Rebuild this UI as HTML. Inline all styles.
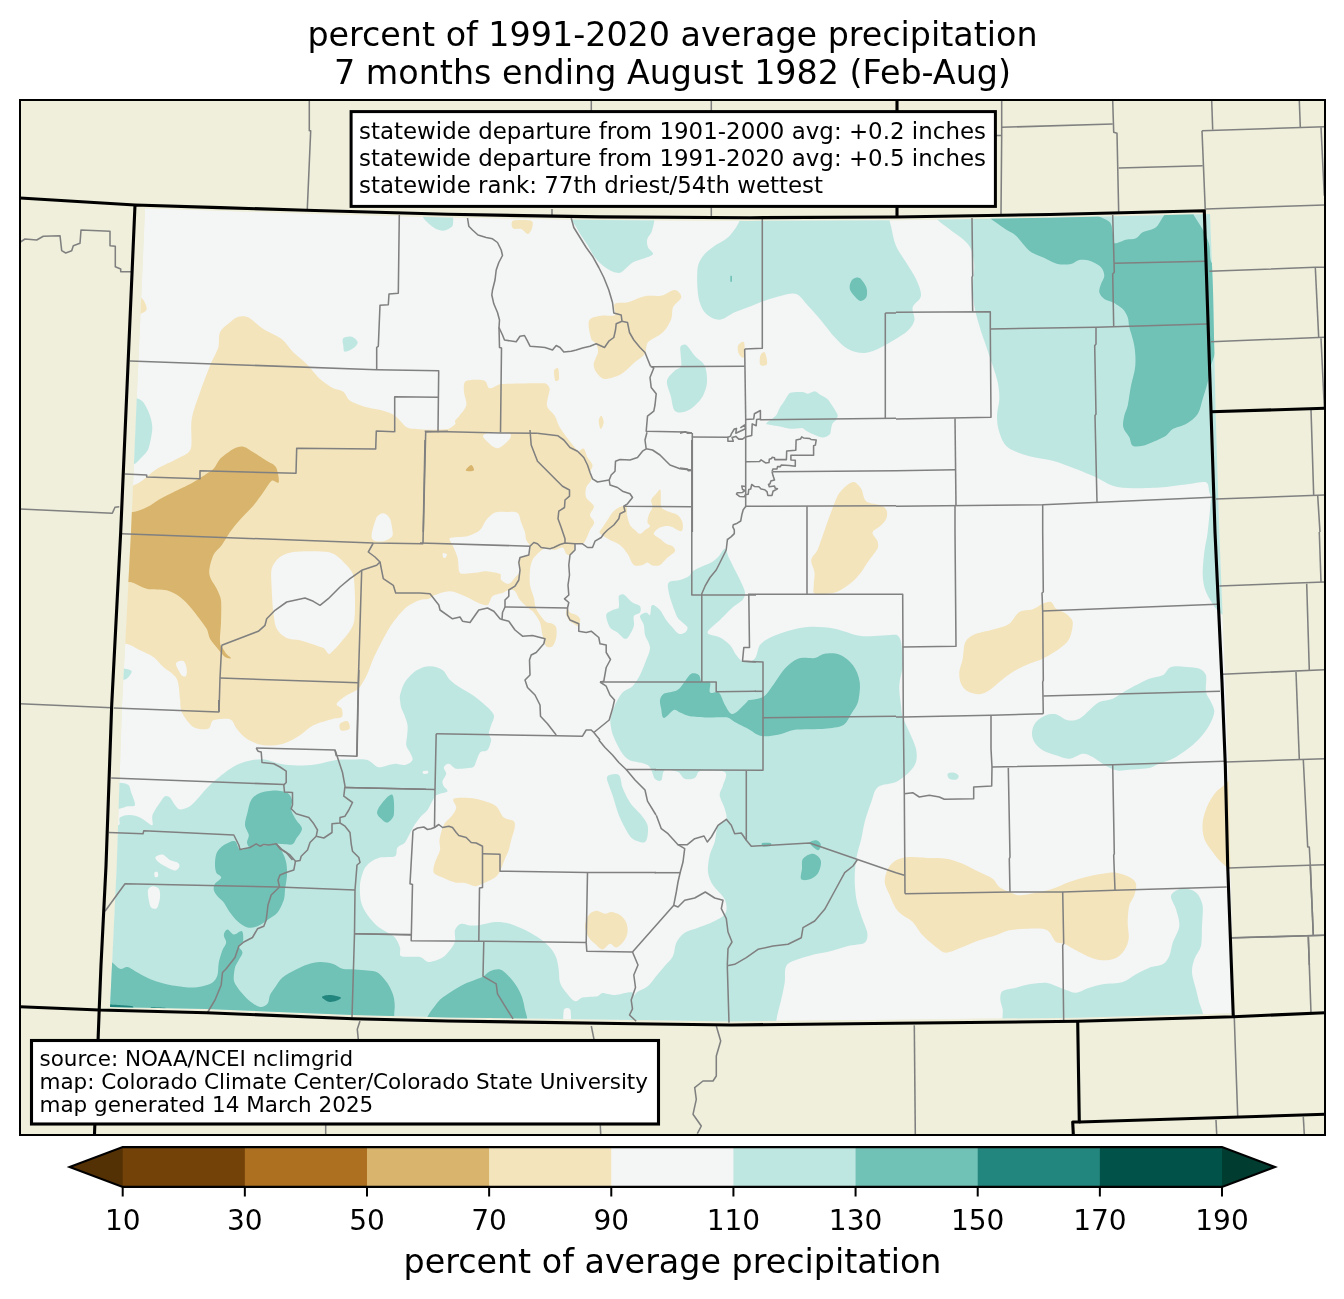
<!DOCTYPE html>
<html lang="en"><head><meta charset="utf-8"><title>percent of 1991-2020 average precipitation</title>
<style>html,body{margin:0;padding:0;background:#fff;overflow:hidden}svg{display:block;will-change:transform}text{font-family:"DejaVu Sans","Liberation Sans",sans-serif;fill:#000}</style></head><body>
<svg width="1344" height="1299" viewBox="0 0 1344 1299">
<defs><clipPath id="ax"><rect x="20" y="100" width="1305" height="1035"/></clipPath>
<clipPath id="dat"><path d="M145 208.2 220 210.8 306 213.4 448 217.5 600 220.1 750 220.9 896 220.2 1050 217.7 1210 214 1213 290 1215.6 411 1219.3 532 1222.8 620 1225.3 682 1228.3 765 1230.4 866 1234.5 1013.3 1077.7 1017.7 896 1019.7 731 1021.4 634 1020.1 448 1017.4 353 1015.1 206.7 1009.1 110 1006.9 112 965 116.7 866 122 705 131 532 136.7 399 142 280Z"/></clipPath></defs>
<rect width="1344" height="1299" fill="#fff"/>
<rect x="20" y="100" width="1305" height="1035" fill="#efefdb"/>
<g clip-path="url(#ax)">
<g clip-path="url(#dat)">
<path d="M145 208.2 220 210.8 306 213.4 448 217.5 600 220.1 750 220.9 896 220.2 1050 217.7 1210 214 1213 290 1215.6 411 1219.3 532 1222.8 620 1225.3 682 1228.3 765 1230.4 866 1234.5 1013.3 1077.7 1017.7 896 1019.7 731 1021.4 634 1020.1 448 1017.4 353 1015.1 206.7 1009.1 110 1006.9 112 965 116.7 866 122 705 131 532 136.7 399 142 280Z" fill="#f4f5f5"/>
<path d="M100 485.7C102.2 475 123.4 488.5 132.7 485.7C142 482.9 150.3 472.9 156.7 469C163.1 465.1 171.8 461.9 176.7 459C181.6 456.1 188.7 454.4 190.7 449C192.7 443.6 190.2 428.2 191.7 419C193.2 409.8 197 401.1 200 392.3C203 383.5 207.5 371.9 210 365.7C212.5 359.5 216.9 352.1 218.3 347.3C219.7 342.5 218.1 336.5 220 332.3C221.9 328.1 227.5 324.5 230 322.3C232.5 320.1 235.2 317.5 238.3 316.7C241.4 315.9 245.3 315.8 248.3 317.3C251.3 318.8 258 325.5 263.3 329C268.6 332.5 277.1 335.4 281.7 339C286.3 342.6 289.1 348.1 293.3 352.3C297.5 356.5 302.5 359.8 306.7 364C310.9 368.2 316 375.4 320 379C324 382.6 330.2 386.6 333.3 388.3C336.4 390 340.5 389.6 343.3 391.7C346.1 393.8 346.9 398.6 350 400.7C353.1 402.8 361.3 405.7 366.7 407.3C372.1 408.9 379.2 409.5 383.3 410.7C387.4 411.9 391.5 413.2 395 415.7C398.5 418.2 403.8 425.5 406.7 427.3C409.6 429.1 413.3 428.7 416.7 429C420.1 429.3 425.6 429.7 430 429.7C434.4 429.7 445.1 429.6 448 429C450.9 428.4 454.6 424.8 455.3 424C456 423.2 454.5 421.7 455 420.7C455.5 419.7 458.5 417.1 460 415C461.5 412.9 465.6 408.8 466.3 405C467 401.2 464.2 395.6 464 392.3C463.8 389 463.5 384.3 464.7 382.3C465.9 380.3 469 380.2 471.3 380C473.6 379.8 481.9 379.5 484.7 380.7C487.5 381.9 486.9 387.8 489.7 388.3C492.5 388.9 497.2 384.4 501.3 384C505.4 383.6 542.2 383 544.7 383.3C547.2 383.6 549.4 386.5 549.7 389C550 391.5 546.2 401.6 547 405.7C547.8 409.8 552.6 412.1 554.7 415.7C556.8 419.3 557.6 423.6 559.7 427.3C561.8 431 565.1 435.2 568 439C570.9 442.8 576.3 449.6 578 450.7C579.7 451.8 582.2 447.7 583.8 448.8C585.4 449.9 586.1 454.9 587.5 457.5C588.9 460.1 592.1 462.5 592.5 465C592.9 467.5 590.2 470 590 472.5C589.8 475 591.8 477.5 591.2 480C590.6 482.5 587 484.6 586.2 487.5C585.4 490.4 584.9 494.4 586.2 497.5C587.5 500.6 593.2 503.3 593.8 506.2C594.4 509.1 589.9 512.3 590 515C590.1 517.7 594.2 520 594.2 522.5C594.2 525 591.3 527.4 590 530C588.7 532.6 587.2 537 586.2 538.8C585.2 540.6 584.4 543 582.5 543.8C580.6 544.6 576.5 542.8 575 543.8C573.5 544.8 574.6 548.1 573.8 550C573 551.9 571.2 554.4 570 555C568.8 555.6 567.1 554.7 566.2 553.8C565.3 552.9 564.4 548.1 562.5 547.5C560.6 546.9 556.7 549.8 555 550C553.3 550.2 551.7 549.1 550 548.8C548.3 548.5 546.6 547.4 545 548C543.4 548.6 539.4 552 537.5 553.8C535.6 555.6 533.6 557.6 532.5 560C531.4 562.4 530.3 566.6 530 570C529.7 573.4 529.4 580.7 530 585C530.6 589.3 533 594.4 533.8 597.5C534.6 600.6 534.5 604.1 535.5 607C536.5 609.9 538.2 612.5 540 615C541.8 617.5 544.4 620.7 546.2 622C548 623.3 551 623 552.5 623.8C554 624.6 555.7 625.8 556.2 627.5C556.7 629.2 556.8 634.4 556.2 637.5C555.6 640.6 554.1 644.8 552.5 646.2C550.9 647.6 547.6 647.8 546.2 646.2C544.8 644.6 543.5 638.8 542.5 635C541.5 631.2 541.4 626.2 540 622.5C538.6 618.8 535.5 614.6 533.8 612.5C532.1 610.4 529.5 609.3 527.5 607.5C525.5 605.7 522.1 602.7 520 600C517.9 597.3 516.6 592.6 515 591.2C513.4 589.8 510.9 589.7 508.8 590C506.7 590.3 504.7 592.2 502.5 593C500.3 593.8 495 594.2 492.5 596.2C490 598.2 490 604 487.5 605C485 606 480.7 603.8 477.5 602.5C474.3 601.2 469.3 598 465 596.2C460.7 594.4 455 591.4 450 591.2C445 591 437.3 594.2 435 595C432.7 595.8 431.1 598 428.8 598.8C426.5 599.6 422.8 599 420 600C417.2 601 410.6 603.8 406.7 607C402.8 610.2 397.2 616.8 393.3 622C389.4 627.2 386.4 633 383.3 638.7C380.2 644.4 375.8 653.3 373.3 658.7C370.8 664.1 369.1 670.6 366.7 675.3C364.3 680 361.4 685.6 358.3 688.7C355.2 691.8 350.3 692.8 346.7 695.3C343.1 697.8 337.5 701.5 336.7 703.7C335.9 705.9 340.9 706.5 341.7 708.7C342.5 710.9 343.1 715.3 341.7 717C340.3 718.7 336 717.9 333.3 718.7C330.6 719.5 318.3 722.8 313.3 725.3C308.3 727.8 304.7 732.4 300 735.3C295.3 738.2 289.3 742.1 283.3 743.7C277.3 745.3 269.2 746.1 263.3 745.3C257.4 744.5 250.7 741.2 246.7 738.7C242.7 736.2 239.2 731.6 236.7 728.7C234.2 725.8 233.6 720.6 230 719.3C226.4 718 216.3 719 213.3 720.3C210.3 721.6 211.4 727.7 208.3 728.7C205.2 729.7 197.6 729.7 193.3 727C189 724.3 183.6 716 181.7 712C179.8 708 180.7 703.1 180 698.7C179.3 694.3 179.5 683.9 176.7 678.7C173.9 673.5 166.8 670.2 163.3 667C159.8 663.8 157.1 659.7 153.3 657C149.5 654.3 144.5 652.5 140 650.3C135.5 648.1 131.1 644.5 126 643.7C120.9 642.9 101.4 652.3 100 643.7C98.6 635.1 97.8 496.4 100 485.7Z" fill="#f3e4bb"/>
<path d="M133.3 298C134.6 295.5 139.5 296.2 141.7 298C143.9 299.8 147 306.3 146.7 309C146.4 311.7 142.1 313.2 140 314C137.9 314.8 134.2 316.1 133.3 314C132.4 311.9 132 300.5 133.3 298Z" fill="#f3e4bb"/>
<path d="M614.7 304C616.9 301.9 623.7 303.4 628 302.3C632.3 301.2 639.3 297.4 644.7 296.3C650.1 295.2 656.5 296.7 661.3 295.7C666.1 294.7 671.4 289.7 674.7 290C678 290.3 681.6 294.4 681.3 297.3C681 300.2 674.6 303.7 673 307.3C671.4 310.9 672.8 315.3 671.3 319C669.8 322.7 666.7 328.6 663 332.3C659.3 336 650.6 339.2 648 342.3C645.4 345.4 646.9 350.7 644.7 354C642.5 357.3 638 359.5 634.7 362.3C631.4 365.1 626.3 371.2 621.3 374C616.3 376.8 608.3 379.2 604.7 379C601.1 378.8 598 374.6 596.3 372.3C594.6 370 593.5 366.9 593.7 364C593.9 361.1 597.6 355.1 598 352.3C598.4 349.5 597.4 346.1 596.3 344C595.2 341.9 592 341.2 591.3 339C590.6 336.8 587.3 324.6 589 320.7C590.7 316.8 597 316.6 601.3 315.7C605.6 314.8 612.5 316.9 614.7 315C616.9 313.1 612.5 306.1 614.7 304Z" fill="#f3e4bb"/>
<path d="M513 220.7C515.3 219.7 529.2 220 531.3 220.7C533.4 221.4 532.8 225.1 532.3 227.3C531.8 229.5 529.8 233.7 528 234C526.2 234.3 523.8 229.9 521.3 229C518.8 228.1 514.4 229.7 513 228.3C511.6 226.9 510.7 221.7 513 220.7Z" fill="#f3e4bb"/>
<path d="M554 370.7C554.3 369.2 557.2 367 558 368.3C558.8 369.6 559.3 377.7 559 379C558.7 380.3 556 381.9 555.3 380.7C554.6 379.5 553.7 372.2 554 370.7Z" fill="#f3e4bb"/>
<path d="M738 345.7C738.8 343.8 743 340.4 744 342.3C745 344.2 744.8 355.5 744 357.3C743.2 359.1 739.9 355.8 739 354C738.1 352.2 737.2 347.6 738 345.7Z" fill="#f3e4bb"/>
<path d="M760.3 355.7C760.9 354 763.6 350.9 764.7 352.3C765.8 353.7 767.7 361.9 767 364C766.3 366.1 761.4 366.1 760.3 364.7C759.2 363.3 759.7 357.4 760.3 355.7Z" fill="#f3e4bb"/>
<path d="M598.7 420.7C598.8 418.8 600.5 415.4 601.3 415.7C602.1 416 603.8 420.1 603.7 422.3C603.6 424.5 601.5 429.3 600.7 429C599.9 428.7 598.6 422.6 598.7 420.7Z" fill="#f3e4bb"/>
<path d="M626.2 506.2C624.8 504.9 621.1 506.5 618.8 507.5C616.5 508.5 614.3 510.5 612.5 512.5C610.7 514.5 609.2 517.5 607.5 520C605.8 522.5 603.5 525.9 602.5 527.5C601.5 529.1 599.3 531 599.5 532.5C599.7 534 602.3 535.1 603.8 536.2C605.3 537.3 607.9 538.8 610 540C612.1 541.2 617.1 542.7 620 545C622.9 547.3 625.3 550.6 627.5 553.8C629.7 557 631.5 563.3 633.8 565C636.1 566.7 640.7 565.3 642.5 565C644.3 564.7 645.8 562.4 647.5 562.5C649.2 562.6 650.6 565.1 652.5 565.5C654.4 565.9 657.8 566.2 660 565C662.2 563.8 665.1 559.7 667.5 557.5C669.9 555.3 674.2 552.9 675 551.2C675.8 549.5 673.9 547.4 672.5 546.2C671.1 545 668.1 544.9 666.2 543.8C664.3 542.7 662.1 540.5 660 538.8C657.9 537.1 653.8 535.7 653.8 533.8C653.8 531.9 657.3 528.8 660 527.5C662.7 526.2 666.7 525.6 670 526.2C673.3 526.8 679.1 531.8 681.2 531.2C683.3 530.6 683.1 525.2 682.5 522.5C681.9 519.8 679.9 516.8 677.5 515C675.1 513.2 669.8 512.3 667.5 511.2C665.2 510.1 662 509.4 661.2 507C660.4 504.6 661.2 491.8 660.5 490C659.8 488.2 657.5 492.4 656.2 493.8C654.9 495.2 651.8 497.8 651.2 500C650.6 502.2 652.9 504.7 652.5 507C652.1 509.3 649.6 512.6 648.8 515C648 517.4 647.3 521 647.5 522.5C647.7 524 650.4 525 650 526.2C649.6 527.5 646.7 528.7 645 530C643.3 531.3 641.7 533.8 640 533.8C638.3 533.8 636.6 531.4 635 530C633.4 528.6 631.1 527.1 630 525C628.9 522.9 627.6 517.9 627 515C626.4 512.1 627.6 507.4 626.2 506.2Z" fill="#f3e4bb"/>
<path d="M567.5 608C568.1 607.8 568.7 611.4 570 612.5C571.3 613.6 574.7 614 576.2 615C577.7 616 579.6 617.1 580 618.8C580.4 620.5 579.8 625.4 578.8 626.2C577.8 627 575.4 624.8 573.8 623.8C572.2 622.8 570.1 621.7 568.8 620C567.5 618.3 566.4 615.8 566.2 613.8C566 611.8 566.9 608.2 567.5 608Z" fill="#f3e4bb"/>
<path d="M853.8 482C856.3 482.5 859.4 485.9 861.2 488.8C863.1 491.6 863.1 498.5 866.2 501.2C869.4 504 877.5 503.9 880 505C882.5 506.1 885.5 507.7 886.5 510C887.5 512.3 887.3 516 886.2 518.8C885.2 521.5 882.3 524 880 526.2C877.7 528.5 872.9 530 872.5 532.5C872.1 535 876.8 538.9 877.5 541.2C878.2 543.6 878.6 546.5 877.5 548.8C876.4 551 870.1 558.8 867.5 562.5C864.9 566.2 862.9 570.3 860 573.8C857.1 577.2 853.8 580.9 850 583.8C846.2 586.6 840.6 590.9 835 592.5C829.4 594.1 817.8 594.7 815 593.8C812.2 592.8 813.8 587.9 813.8 585C813.7 582.1 814.9 576.7 814.5 572.5C814.1 568.3 810.8 563.8 811.2 560C811.8 556.2 815.9 553.6 817.5 550C819.1 546.4 821.7 538.3 823.8 532.5C825.8 526.7 827.8 520.8 830 515C832.2 509.2 836.1 498.5 838 495C839.9 491.5 843.8 487.9 846 486C848.2 484.1 851.2 481.5 853.8 482Z" fill="#f3e4bb"/>
<path d="M967.7 638.7C969.5 637 973 634.8 976 633.7C979 632.6 991.5 630.1 996 628.7C1000.5 627.3 1005.5 626.5 1009.3 623.7C1013.1 620.9 1015.4 614.4 1019.3 612C1023.2 609.6 1029.1 610.6 1032.7 609.3C1036.3 608 1040.1 604.7 1042.7 603.7C1045.3 602.7 1048.8 601.2 1051 602C1053.2 602.8 1053.8 607 1056 608.7C1058.2 610.4 1063.2 611.5 1066 613.7C1068.8 615.9 1072.2 618.5 1072.7 622C1073.2 625.5 1071.4 634.5 1069.3 638.7C1067.2 642.9 1063.1 645.9 1059.3 648.7C1055.5 651.5 1047 656.6 1042.7 658.7C1038.4 660.8 1033.7 661.8 1029.3 663.7C1024.9 665.6 1017.5 669.1 1012.7 672C1007.9 674.9 1002.7 679.3 999.3 682C995.9 684.7 992.4 688.4 989.3 690.3C986.2 692.2 982.9 694.1 979.3 694.3C975.7 694.5 970.6 693 967.7 691.3C964.8 689.6 962.3 686.8 961 683.7C959.7 680.6 959 675.9 959.3 672C959.6 668.1 961.9 663.1 962.7 658.7C963.5 654.3 963.7 647.7 964.3 645.3C964.9 642.9 965.9 640.4 967.7 638.7Z" fill="#f3e4bb"/>
<path d="M1232.7 778.7C1232.3 775.2 1227.1 783.1 1224.3 785.3C1221.5 787.5 1218.3 789.3 1216 792C1213.7 794.7 1209.8 800.5 1207.7 805.3C1205.6 810.1 1203.3 816.4 1202.7 822C1202.1 827.6 1202.6 833.7 1204.3 838.7C1206 843.7 1210.2 848.5 1212.7 852C1215.2 855.5 1217.7 859.2 1221 862C1224.3 864.8 1232.1 873.2 1232.7 868.7C1233.3 864.2 1233.1 782.2 1232.7 778.7Z" fill="#f3e4bb"/>
<path d="M896 860.3C899.4 858.4 904.7 857.3 909.3 857C913.9 856.7 923.7 857.7 929.3 858C934.9 858.3 940.5 857.8 946 858.7C951.5 859.6 957.3 861.5 962.7 863.7C968.1 865.9 974.8 869.8 979.3 872C983.8 874.2 989.9 876.6 992.7 878.7C995.5 880.8 996.5 884.8 999.3 887C1002.1 889.2 1006.1 890.7 1009.3 892C1012.5 893.3 1015.8 895.2 1019.3 895.3C1022.8 895.4 1030.5 893.8 1036 892.7C1041.5 891.6 1047.3 890.5 1052.7 888.7C1058.1 886.9 1063.8 883.9 1069.3 882C1074.8 880.1 1080.5 878.4 1086 877C1091.5 875.6 1098.3 874.3 1102.7 873.7C1107.1 873.1 1111.6 872.2 1116 872.7C1120.4 873.2 1126.5 875.5 1129.3 877C1132.1 878.5 1135.2 880.7 1136 883.7C1136.8 886.7 1135.4 891.7 1134.3 895.3C1133.2 898.9 1130.2 901.7 1129.3 905.3C1128.4 908.9 1127.8 916.4 1127.7 922C1127.6 927.6 1129.2 934.6 1128.7 938.7C1128.2 942.8 1126.4 947.1 1124.3 950.3C1122.2 953.5 1119.4 956.4 1116 958C1112.6 959.6 1107.2 960.5 1102.7 960.3C1098.2 960.1 1093.6 958.6 1089.3 957C1085 955.4 1080 952.4 1076 950.3C1072 948.2 1066.9 944.8 1064.3 943.7C1061.7 942.6 1058.2 943.7 1056 942C1053.8 940.3 1051 933.7 1049.3 932C1047.6 930.3 1045.1 929 1042.7 928.7C1040.3 928.4 1031.6 928.4 1026 928.7C1020.4 929 1013.9 929.3 1009.3 930.3C1004.7 931.3 1000.5 933.8 996 935.3C991.5 936.8 984.8 938.4 979.3 940.3C973.8 942.2 968.2 944.9 962.7 947C957.2 949.1 949.8 952.7 946 952.7C942.2 952.7 939.1 949.3 936 947C932.9 944.7 926.5 939.4 922.7 935.3C918.9 931.2 915.5 924.8 912.7 922C909.9 919.2 905.2 917.3 902.7 915.3C900.2 913.3 897.7 911.3 896 908.7C894.3 906.1 891.5 899.7 889.7 895.3C887.9 890.9 885 886.4 884.7 882C884.4 877.6 886.2 872.1 888 868.7C889.8 865.3 892.6 862.2 896 860.3Z" fill="#f3e4bb"/>
<path d="M453.8 798.8C456.1 797.2 464.9 797.6 470 798C475.1 798.4 481.1 800 485 801.2C488.9 802.4 493.1 803.5 496.2 806.2C499.3 808.9 501.1 815.2 503.8 817.5C506.5 819.8 512.1 819.4 513.8 821.2C515.5 823 514.8 826.3 514.5 828.8C514.2 831.3 512.1 836.7 511.2 840C510.3 843.3 509.8 847 508.8 850C507.8 853 506.2 855.8 505 858.8C503.8 861.8 501.3 868.8 500 871.2C498.7 873.6 497.2 875.9 495 877.5C492.8 879.1 484.9 882.8 482.5 883.8C480.1 884.8 477.6 886.3 475 886.2C472.4 886.1 468.3 883.6 465 883C461.7 882.4 458.2 883.3 455 882.5C451.8 881.7 445.5 878.9 442.5 877.5C439.5 876.1 435.1 875 433.8 872.5C432.6 870 434.1 865.7 435 862.5C435.9 859.3 439.3 853.3 440 850C440.7 846.7 439 843.3 439.5 840C440 836.7 441.8 828.9 443.8 825C445.8 821.1 450.9 817.3 452.5 815C454.1 812.7 456 810.2 456.2 807.5C456.4 804.8 451.5 800.4 453.8 798.8Z" fill="#f3e4bb"/>
<path d="M585 926.2C585 922.5 587.1 917.3 588.8 915C590.5 912.7 593.5 911 596.2 910.8C598.9 910.6 602.9 913.6 605 913.8C607.1 914 609.1 911.8 611.2 912C613.3 912.2 617.5 913.2 620 915C622.5 916.8 625 919.6 626.2 922.5C627.5 925.4 627.9 929.4 627.5 932.5C627.1 935.6 625.7 938.7 623.8 941.2C621.9 943.7 618.5 947.1 616.2 947.5C613.9 947.9 612.3 943.5 610 943.8C607.7 944.1 605 949.5 602.5 949.5C600 949.5 597.2 945.7 595 943.8C592.8 941.9 590.3 940.1 588.8 937.5C587.3 934.9 585 930 585 926.2Z" fill="#f3e4bb"/>
<path d="M340 723.8C341.1 722.2 345.9 720.4 347.5 721.2C349.1 722 350.6 727.2 349.5 728.8C348.4 730.3 342.8 731.3 341.2 730.5C339.6 729.7 338.9 725.3 340 723.8Z" fill="#f3e4bb"/>
<path d="M126.7 398C127.1 394.9 133.3 397.3 136 398C138.7 398.7 141.5 400.1 143.3 402.3C145.1 404.5 148.6 411.4 150 415.7C151.4 420 152.5 424.5 152.3 429C152.1 433.5 149.9 445 148.3 449C146.7 453 141.7 457.2 140 459C138.3 460.8 136.5 463.2 134.3 464C132.1 464.8 127 466.5 126.7 464C126.4 461.5 126.3 401.1 126.7 398Z" fill="#bfe7e1"/>
<path d="M343.3 338.3C344.7 336.8 349.3 336 351.7 336.7C354.1 337.4 357.4 340.4 357.7 342.3C358 344.2 355.3 346.8 353.3 348.3C351.3 349.8 346.7 352.1 345 351.7C343.3 351.3 343.6 347.8 343.3 345.7C343 343.6 341.9 339.8 343.3 338.3Z" fill="#bfe7e1"/>
<path d="M423.3 215C420.3 217.1 430.5 225.1 433.3 227.3C436.1 229.5 440.4 230.7 443.3 230.7C446.2 230.7 450.3 228 451.3 227.3C452.3 226.6 453 225.2 453 224C453 222.8 454.2 215.9 451.3 215C448.4 214.1 426.3 212.9 423.3 215Z" fill="#bfe7e1"/>
<path d="M572 215.7C576.1 215.1 647.1 214.8 652 215.7C656.9 216.6 652.6 227.6 652 230.7C651.4 233.8 648 236.3 647.3 239C646.6 241.7 647 244.8 648 247.3C649 249.8 653.5 252.2 653 254C652.5 255.8 647.6 257.1 644.7 258.3C641.8 259.5 636.5 260.2 633 262.3C629.5 264.4 623.8 271.1 621.3 272.3C618.8 273.5 615.6 272.6 613 271.7C610.4 270.8 606 268.1 603 265.7C600 263.3 597.1 260.4 594.7 257.3C592.3 254.2 590.1 249.1 588 245.7C585.9 242.3 583 238.4 581.3 235.7C579.6 233 577.7 230.3 576.3 227.3C574.9 224.3 567.9 216.3 572 215.7Z" fill="#bfe7e1"/>
<path d="M741.3 215.7C739.7 223.2 733.7 231.2 729.7 235.7C725.7 240.2 718.2 243.1 714.7 245.7C711.2 248.3 707.5 250.7 704.7 254C701.9 257.3 699 261.3 698 265.7C697 270.1 697 280.1 697.3 285.7C697.6 291.3 698.3 298 699.7 302.3C701.1 306.6 703 311.1 706.3 314C709.6 316.9 715 320 719.7 319.7C724.4 319.4 730.4 314.2 734.7 312.3C739 310.4 743.6 309 748 307.3C752.4 305.6 759.2 302.6 764.7 300.7C770.2 298.8 776.4 296.7 781.3 295.7C786.2 294.7 791.8 292.3 796.3 294C800.8 295.7 804.2 301.7 808 305.7C811.8 309.7 817 315.6 821.3 320.7C825.6 325.8 830.6 333 834.7 337.3C838.8 341.6 843 346.4 848 349C853 351.6 859.2 353.3 864.7 353C870.2 352.7 876.1 349.9 881.3 347.3C886.5 344.7 902.3 335.3 906 332.3C909.7 329.3 913.2 324.9 914.3 320.7C915.4 316.5 911.6 311.5 912.7 307.3C913.8 303.1 920.5 300.4 921 295.7C921.5 291 918.4 284.3 916 279C913.6 273.7 909.3 267.8 906 262.3C902.7 256.8 898.5 251.5 896 245.7C893.5 239.9 892.2 231.2 891.3 227.3C890.4 223.4 889 219.7 888.7 215.7C888.4 211.7 898.9 184.8 888 182.3C877.1 179.8 752.2 179.8 741.3 182.3C730.4 184.8 742.9 208.2 741.3 215.7Z" fill="#bfe7e1"/>
<path d="M936 165.7C920.1 168 932.8 207.1 934.3 214C935.8 220.9 945.1 225.3 949.3 229C953.5 232.7 959.5 236.1 962.7 239C965.9 241.9 969.3 245 971 249C972.7 253 974 260 974.3 265.7C974.6 271.4 972.7 279 972.7 285.7C972.7 292.4 973.2 299.1 974.3 305.7C975.4 312.3 977.4 319.1 979.3 325.7C981.2 332.3 983.8 339 986 345.7C988.2 352.4 990.9 360.2 992.7 365.7C994.5 371.2 996.6 376.8 997.7 382.3C998.8 387.8 999.4 393.4 999.3 399C999.2 404.6 997 410.1 997 415.7C997 421.2 997.5 427 999.3 432.3C1001.1 437.6 1003.2 443.7 1007.7 447.3C1012.2 450.9 1021.8 454.1 1029.3 456.3C1036.8 458.5 1045 458.6 1052.7 460.7C1060.4 462.8 1069.3 466.4 1076 469C1082.7 471.6 1090.3 474.7 1096 477.3C1101.7 479.9 1106.7 483.9 1112.7 485.7C1118.7 487.5 1126 488.1 1132.7 488.3C1139.4 488.5 1153.8 488 1162.7 487.3C1171.6 486.6 1183.7 484.6 1189.3 484C1194.9 483.4 1202.8 481 1206 482.3C1209.2 483.6 1208.6 490.1 1209.3 492.3C1210 494.5 1211.1 496.7 1211 499C1210.9 501.3 1208.5 525.3 1207.7 532C1206.9 538.7 1205.1 545.3 1204.3 552C1203.5 558.7 1202.5 569.6 1202.7 575.3C1202.9 581 1203.9 586.7 1206 592C1208.1 597.3 1213.8 605.9 1216 608.7C1218.2 611.5 1221 614.2 1224.3 615.3C1227.6 616.4 1235.6 619.2 1236 615.3C1236.4 611.4 1262 210.1 1262.7 199C1263.4 187.9 1273.7 166.8 1262.7 165.7C1251.7 164.6 951.9 163.4 936 165.7Z" fill="#bfe7e1"/>
<path d="M680.3 347.3C680.8 345.2 684.4 343.9 686.3 345C688.2 346.1 691.7 352.3 694.7 355.7C697.7 359.1 702.7 361.4 704.7 365.7C706.7 370 707.3 377.6 707 382.3C706.7 387 705 391.9 703 395.7C701 399.5 697.6 403.1 694.7 405.7C691.8 408.3 687.9 410.9 684.7 411.7C681.5 412.5 676.9 413.2 674.7 410.7C672.5 408.2 672 400.7 670.7 395.7C669.4 390.7 666.3 384.9 667 380.7C667.7 376.5 672.8 372.7 674.7 370.7C676.6 368.7 680.7 368.4 681.3 365.7C681.9 363 679.8 349.4 680.3 347.3Z" fill="#bfe7e1"/>
<path d="M766.3 423.5C766.7 422.4 771.7 419.4 773 418.3C774.3 417.2 775.8 416.1 776.7 414.6C777.6 413.1 778.5 410 779.7 407.9C780.9 405.8 782.7 403.4 784.2 401.2C785.7 399 788.1 394.5 789.4 393.3C790.7 392.1 792.8 392.3 794.6 392.2C796.4 392.1 801.9 392 803.5 392.2C805.1 392.4 806.4 393.8 808 393.7C809.6 393.6 812.7 391.1 814.7 391.2C816.7 391.3 818.1 393.4 819.9 394.5C821.7 395.6 825.4 397.3 827.3 398.9C829.2 400.5 830.5 403 831.8 404.9C833.1 406.8 834.7 409.3 835.5 410.8C836.3 412.3 837.6 413.8 837.7 415.3C837.8 416.8 837 418.5 836.2 419.8C835.4 421.1 833.3 422 832.5 423.5C831.7 425 831.5 427.7 831 429.4C830.5 431.1 830.9 433.3 829.6 434.6C828.3 435.9 825.3 437.6 822.9 437.6C820.5 437.6 816.5 435.6 813.9 434.6C811.3 433.6 808.1 431.8 806.5 430.9C804.9 430 803.8 428.1 802 427.9C800.2 427.7 793.6 428.9 790.1 428.7C786.6 428.5 782.7 427.1 779.7 426.5C776.7 425.9 772.3 425.3 770.8 425C769.3 424.7 765.9 424.6 766.3 423.5Z" fill="#bfe7e1"/>
<path d="M105 825C105.6 820.4 116.5 826.1 118.8 825C121.1 823.9 118.1 819.2 120 817.5C121.9 815.8 126.7 815 130 815C133.3 815 137.2 816.3 140 817.5C142.8 818.7 145.9 821.5 147.5 822.5C149.1 823.5 151.7 826.2 152.5 825C153.3 823.8 151.4 818.2 152.5 815C153.6 811.8 158.5 804.7 160 802.5C161.5 800.3 163.5 797 165 796.2C166.5 795.4 168.7 796.4 170 797.5C171.3 798.6 173.6 803.3 175 805C176.4 806.7 177.8 809.3 180 809.5C182.2 809.7 187.1 808 190 806.2C192.9 804.4 195.1 801.4 197.5 798.8C199.9 796.2 205.5 789.3 210 785C214.5 780.7 221 775.5 225 772.5C229 769.5 233 766.5 237.5 764.5C242 762.5 248.4 760.7 252.5 760C256.6 759.3 260.9 758.9 265 759.5C269.1 760.1 274.9 762.9 280 763.8C285.1 764.7 291.7 765.4 297.5 765.5C303.3 765.6 309.9 765.2 315 764.5C320.1 763.8 326.7 761.9 330 761.2C333.3 760.5 336.6 759.7 340 759.5C343.4 759.3 350.8 759.4 355 759.5C359.2 759.6 363.8 758.8 367.5 760C371.2 761.2 375.1 766.2 377.5 767C379.9 767.8 382.5 766.7 385 766.2C387.5 765.7 391.7 764 395 763.8C398.3 763.6 402.1 765.6 405 765C407.9 764.4 411.7 762.1 412.5 760C413.3 757.9 411 754.9 410 752.5C409 750.1 406.5 747.8 406.2 745C405.9 742.2 408.3 731.1 407.5 725C406.7 718.9 401.9 709.9 401.2 707.5C400.5 705.1 400.2 701.6 400 700C399.8 698.4 399.6 696.8 400 695.3C400.4 693.8 402.4 685.9 405 682C407.6 678.1 412.8 672.8 416.7 670.3C420.6 667.8 425.7 666.2 430 666.2C434.3 666.2 439.2 667.7 442.5 670C445.8 672.3 447.1 677.1 450 680C452.9 682.9 456.5 685.2 460 687.5C463.5 689.8 468.5 692.2 472.5 695C476.5 697.8 481.8 702 485 705C488.2 708 492.8 711.7 493.8 715C494.8 718.3 492 722.1 491.2 725C490.4 727.9 488.8 731.6 488.8 733.8C488.8 736 491.4 737.8 491.2 740C491 742.2 489.3 748 487.5 750C485.7 752 481.7 750.5 480 752.5C478.3 754.5 475.5 763.7 475 764.8C474.5 765.9 473.7 767.2 472.5 767.5C471.3 767.8 459.1 769.3 456.2 768.8C453.3 768.3 450.9 764 448.8 763.8C446.7 763.6 444.2 765.8 443.8 767.5C443.4 769.2 446.4 771.6 446.2 773.8C446 776 442.8 779.5 442.5 781.2C442.2 782.9 443 784.7 443.8 786.2C444.6 787.7 448.1 789.9 447.5 791.2C446.9 792.5 441.7 793.1 440 793.8C438.3 794.5 436.1 794.7 435 796.2C433.9 797.7 429.5 807.1 427.5 810C425.5 812.9 422.3 814.8 420 817.5C417.7 820.2 415.1 824 413 827.5C410.9 831 406.8 840.1 405 842.5C403.2 844.9 399.2 845.2 397.5 847.5C395.8 849.8 397.6 854.7 395 856.2C392.4 857.7 383.6 856.6 380 857.5C376.4 858.4 372.6 860.5 370 862.5C367.4 864.5 365.1 867 363.8 870C362.5 873 360.4 879.9 360 885C359.6 890.1 360.1 898 361.2 902.5C362.3 907 364.9 911.2 367.5 915C370.1 918.8 374.5 923.6 377.5 926.2C380.5 928.8 385 930.9 387.5 932.5C390 934.1 393.1 935.2 395 937.5C396.9 939.8 399.1 944.7 400 947.5C400.9 950.3 398.6 954.9 401.2 956.2C403.8 957.5 416.7 956.3 420 957C423.3 957.7 425.4 961.9 428.8 962C432.2 962.1 439.4 959.2 442.5 957.5C445.6 955.8 447.9 952.7 450 950C452.1 947.3 454.2 944.5 455 941.2C455.8 937.9 454 932.8 455 930C456 927.2 458.7 924.5 461.2 923.8C463.7 923 467 925.3 470 925.5C473 925.7 476.7 925.5 480 925C483.3 924.5 490 922.2 495 922C500 921.8 505.2 922.4 510 923.8C514.8 925.2 523.1 929 527.5 931.2C531.9 933.4 536.4 936.2 540 938.8C543.6 941.4 547.4 944.5 550 947.5C552.6 950.5 554.8 953.8 556.2 957.5C557.6 961.2 558.2 965.9 558.8 970C559.4 974.1 558.8 978.8 560 982.5C561.2 986.2 563.7 989.4 566.2 992.5C568.7 995.6 572.3 1000.4 575 1001.2C577.7 1002 579.8 998.1 582.5 997.5C585.2 996.9 595.6 996.6 597.5 996.2C599.4 995.8 600.5 993.1 602.5 993C604.5 992.9 610.8 995.1 615 995C619.2 994.9 625.4 992.6 627.5 992.5C629.6 992.4 633.3 991.7 633.8 993.8C634.3 995.9 651.2 1033.8 637.5 1035C623.8 1036.2 156.8 1066.4 90 1040C23.2 1013.6 104.4 829.6 105 825Z" fill="#bfe7e1"/>
<path d="M115 785C117 781.3 124.8 783.3 127.5 784.5C130.2 785.7 130.2 789.7 131.2 792.5C132.2 795.3 135.6 802.7 135 805C134.4 807.3 130 805.9 127.5 806.2C125 806.5 117.1 811 115 807.5C112.9 804 113 788.7 115 785Z" fill="#bfe7e1"/>
<path d="M640 616.2C640.4 614.1 644.7 612.7 646.2 612.5C647.7 612.3 649.2 616 650 615C650.8 614 650.9 607.1 651.2 606.2C651.5 605.3 652.9 604.6 653.8 605C654.7 605.4 658.3 608 660 610C661.7 612 664.3 617.3 666.2 620C668.1 622.7 670.5 625.3 672.5 627.5C674.5 629.7 676.8 633 678.8 633.8C680.8 634.6 683.5 633.5 685 632.5C686.5 631.5 687.9 629.2 687.5 627.5C687.1 625.8 684.2 624.2 682.5 622.5C680.8 620.8 678.7 619.5 677.5 617.5C676.3 615.5 673.9 609.1 672.5 605C671.1 600.9 669.3 595.8 668.8 592.5C668.3 589.2 666.9 584.6 668.8 582.5C670.7 580.4 677 581 680 580C683 579 687.1 577.4 688.8 576.2C690.5 575 690.8 572.4 692.5 571.2C694.2 570 699.6 567.5 702.5 566.2C705.4 564.9 708.5 564.1 711.2 562.5C713.9 560.9 716.5 558.5 718.8 556.2C721.1 553.9 723.3 548.6 725 548.8C726.7 549 727.4 554.6 728.8 557.5C730.2 560.4 732.9 565.8 735 570C737.1 574.2 739.8 579.2 741.2 582.5C742.6 585.8 744.8 589.9 745 592.5C745.2 595.1 744.2 598 742.5 600C740.8 602 735.6 604.7 732.5 607.5C729.4 610.3 724.2 615.8 720 620C715.8 624.2 707.5 629.6 707.5 632.5C707.5 635.4 716.4 635.5 720 637.5C723.6 639.5 727.3 642.1 730 645C732.7 647.9 734 652.3 736.2 655C738.4 657.7 740.9 661.4 744 662C747.1 662.6 752.1 661.4 754.7 658.7C757.3 656 757.7 648.2 759.7 645.3C761.7 642.4 764.9 640.4 768 638.7C771.1 637 778.9 633.7 784.7 632C790.5 630.3 800.1 627.5 808 627C815.9 626.5 825.9 627.2 834.7 628.7C843.5 630.2 852.1 635.1 861.3 636C870.5 636.9 893.1 634.3 896 634.7C898.9 635.1 900.4 639.1 901 642C901.6 644.9 903 658.5 902.7 665.3C902.4 672.1 899.6 678.6 899.3 685.3C899 692 900.6 701.4 901 705.3C901.4 709.2 901.5 713.2 902.7 717C903.9 720.8 907.2 727 909.3 732C911.4 737 915 744.4 916 748.7C917 753 917.1 758.1 916 762C914.9 765.9 912.1 769.2 909.3 772C906.5 774.8 901 779.6 896 782C891 784.4 882.1 783.7 878 787C873.9 790.3 873.2 796.9 871.3 802C869.4 807.1 866.2 816.5 864.7 822C863.2 827.5 862.6 833.2 861.3 838.7C860 844.2 857.4 852.1 856.3 858.7C855.2 865.3 854.7 872 854.7 878.7C854.7 885.4 855.3 892.8 856.3 898.7C857.3 904.6 859.5 910.4 861.3 916C863.1 921.6 866.9 929.3 867.3 932.7C867.7 936.1 867.5 940.7 864.7 942.7C861.9 944.7 853.5 944.6 848 946C842.5 947.4 836.8 949.6 831.3 951C825.8 952.4 820.2 952.9 814.7 954.3C809.2 955.7 802.2 957.6 798 959.3C793.8 961 788.5 962.1 786.3 966C784.1 969.9 785.5 977.2 784.7 982.7C783.9 988.2 782.5 993.8 781.3 999.3C780.1 1004.8 777.1 1014.9 776.3 1021C775.5 1027.1 782.3 1038.5 776.3 1039.3C770.3 1040.1 645.3 1040.9 636.3 1039.3C627.3 1037.7 630.1 1017.3 629.7 1012.7C629.3 1008.1 632.2 1001.6 633 999.3C633.8 997 634.5 994.3 636.3 992.7C638.1 991.1 644.7 988.8 648 986C651.3 983.2 653.5 979.3 656.3 976C659.1 972.7 661.9 969.3 664.7 966C667.5 962.7 671.1 959.9 673 956C674.9 952.1 674.3 946.6 676.3 942.7C678.2 938.8 681.1 935.2 684.7 932.7C688.3 930.2 693.6 929.4 698 927.7C702.4 926 710.7 923.2 714.7 921C718.7 918.8 724 916.3 725.7 912.7C727.4 909.1 726.6 903.4 724.7 899.3C722.8 895.2 715.5 889.3 713 885.3C710.5 881.3 708.5 876.7 708 872C707.5 867.3 708.7 859.9 709.7 855.3C710.7 850.7 713.4 846.6 714.7 842C716 837.4 716.4 828.3 718 825.3C719.6 822.3 725.2 822.1 726.3 819.3C727.4 816.5 725.6 812.1 724.7 808.7C723.8 805.3 720 798.8 719.7 795.3C719.4 791.8 722.3 788.7 723 785.3C723.7 781.9 728.5 774.3 724.7 772C720.9 769.7 702.4 770.8 699.7 771.3C697 771.8 697.2 776.8 694.7 778C692.2 779.2 687.5 779.7 684.7 778.7C681.9 777.7 680.9 773.2 678 772C675.1 770.8 667.5 768.9 664.7 770.3C661.9 771.7 663 778.9 661.3 780.3C659.6 781.7 656.2 780.4 654.7 778.7C653.2 777 652 768.3 648 765.3C644 762.3 633.2 762.1 629.7 760.3C626.2 758.5 623.5 755.3 621.3 752C619.1 748.7 614.6 739.5 613 735.3C611.4 731.1 610.5 723.9 610.3 722C610.1 720.1 610.7 718.1 611.2 716.2C611.7 714.3 613.3 708.6 615 705C616.7 701.4 619.8 695.4 622.5 692.5C625.2 689.6 629.7 689 632.5 686.2C635.3 683.4 637.9 679 640 675C642.1 671 644.7 664.1 646.2 660C647.7 655.9 650.2 651.7 650 647.5C649.8 643.3 645.9 638.2 645 635C644.1 631.8 644.6 628.1 643.8 625C643 621.9 639.6 618.3 640 616.2Z" fill="#bfe7e1"/>
<path d="M606.2 615C606.6 612.3 610.6 611.2 612.5 610C614.4 608.8 617.9 609.6 618.8 607.5C619.7 605.4 618.2 597.8 618.8 596.2C619.4 594.6 622.2 593.8 623.8 594.5C625.4 595.2 630.2 600.9 632.5 602.5C634.8 604.1 638.8 604.5 640 606.2C641.2 607.9 641 610.8 640 612.5C639 614.2 634.8 614 633.8 616.2C632.8 618.4 634.9 623 633.8 626.2C632.7 629.4 628.9 637.8 626.2 638.8C623.5 639.8 620 634.2 617.5 632.5C615 630.8 611.6 630 610 627.5C608.4 625 605.8 617.7 606.2 615Z" fill="#bfe7e1"/>
<path d="M607.5 776.2C609.2 774.5 616.3 773.1 618.8 775C621.3 776.9 620.9 783.5 622.5 787.5C624.1 791.5 626.9 797.9 630 802.5C633.1 807.1 638.8 811.9 641.2 815C643.6 818.1 646.5 821.5 647.5 825C648.5 828.5 648 833.8 647.5 836.2C647 838.6 646.2 842.1 643.8 842.5C641.4 842.9 635.4 840.9 632.5 838.8C629.6 836.7 628 833.1 626.2 830C624.4 826.9 620.8 820.2 618.8 815C616.8 809.8 613.6 798.4 612.5 795C611.4 791.6 609.6 787.9 608.8 785C608 782.1 605.8 777.9 607.5 776.2Z" fill="#bfe7e1"/>
<path d="M120 668.7C120.7 667.2 123.4 668.3 125 668.7C126.6 669.1 131.4 669.6 131.7 671.3C132 673 128.6 677.5 126.7 678.7C124.8 679.9 121.1 680.4 120 678.7C118.9 677 119.3 670.2 120 668.7Z" fill="#bfe7e1"/>
<path d="M1032 732C1032.3 728.7 1033.7 724.8 1036 722C1038.3 719.2 1042.9 716.5 1046 715.3C1049.1 714.1 1052.7 713.5 1056 714.3C1059.3 715.1 1063.9 719.6 1067.7 720.3C1071.5 721 1075.8 720.3 1079.3 718.7C1082.8 717.1 1086 713.1 1089.3 710.3C1092.6 707.5 1095.4 703.9 1099.3 702C1103.2 700.1 1108.5 700.6 1112.7 698.7C1116.9 696.8 1123.6 691.8 1129.3 688.7C1135 685.6 1145 680.4 1149.3 678.7C1153.6 677 1159.3 677.2 1162.7 675.3C1166.1 673.4 1167.3 668.3 1171 667C1174.7 665.7 1181.5 666.7 1186 667C1190.5 667.3 1196.4 667.5 1199.3 668.7C1202.2 669.9 1205.1 672.3 1206 675.3C1206.9 678.3 1205.3 688.3 1206 692C1206.7 695.7 1209.7 698.8 1211 702C1212.3 705.2 1214.6 708.5 1214.3 712C1214 715.5 1211.6 721.2 1209.3 725.3C1207 729.4 1203.1 734.6 1199.3 738.7C1195.5 742.8 1190.2 747.1 1186 750.3C1181.8 753.5 1177 756.6 1172.7 758.7C1168.4 760.8 1162.7 762.4 1159.3 763.7C1155.9 765 1152.9 767.3 1149.3 768C1145.7 768.7 1133.7 769.4 1129.3 769.7C1124.9 770 1120.3 771.3 1116 770.3C1111.7 769.3 1106.2 765.7 1102.7 763.7C1099.2 761.7 1095.8 758.6 1092.7 757C1089.6 755.4 1086.2 753.4 1082.7 753.7C1079.2 754 1073.8 758.4 1069.3 758.7C1064.8 759 1060.4 756.7 1056 755.3C1051.6 753.9 1046.1 752.4 1042.7 750.3C1039.3 748.2 1036 745 1034.3 742C1032.6 739 1031.7 735.3 1032 732Z" fill="#bfe7e1"/>
<path d="M947.7 773.7C948.5 772.7 952.5 772.3 954.3 772.7C956.1 773.1 958.4 774.8 958.7 776C959 777.2 957.5 779.3 956 779.7C954.5 780.1 950.7 779.7 949.3 778.7C947.9 777.7 946.9 774.7 947.7 773.7Z" fill="#bfe7e1"/>
<path d="M1171 896C1171.5 892.7 1176.2 890.4 1179.3 889.3C1182.3 888.2 1186.2 888.5 1189.3 889.3C1192.4 890.1 1195.7 891.8 1197.7 894.3C1199.7 896.8 1202.1 901.8 1202.7 906C1203.3 910.2 1202.3 919.3 1202 926C1201.7 932.7 1202.1 941.2 1201 946C1199.9 950.8 1195.7 955 1194.3 959.3C1192.9 963.6 1191.7 968.2 1192 972.7C1192.3 977.2 1194.9 984.8 1196 989.3C1197.1 993.8 1198.3 999.3 1199.3 1002.7C1200.3 1006.1 1202 1009.3 1202.7 1012.7C1203.4 1016.1 1208.8 1025.7 1204.3 1026C1199.8 1026.3 1011.7 1026.5 1006 1026C1000.3 1025.5 1003.4 1012.7 1002.7 1009.3C1002 1005.9 1000.3 1002.2 1000.3 999.3C1000.3 996.4 1000.4 992.7 1002.7 991C1005 989.3 1011.6 988.8 1016 987.7C1020.4 986.6 1024.8 985.1 1029.3 984.3C1033.8 983.5 1042.5 982.5 1046 982.7C1049.5 982.9 1052.7 984.8 1056 986C1059.3 987.2 1062.7 988.9 1066 990C1069.3 991.1 1072.6 993 1076 992.7C1079.4 992.4 1084.9 989.1 1089.3 987.7C1093.7 986.3 1098.2 985.1 1102.7 984.3C1107.2 983.5 1117.8 983.5 1122.7 982C1127.6 980.5 1131.6 976.6 1136 974.3C1140.4 972 1145 969.3 1149.3 967.7C1153.6 966.1 1159.6 966.1 1162.7 964.3C1165.8 962.5 1167.8 959.2 1169.3 956C1170.8 952.8 1171.3 947 1172.7 942.7C1174.1 938.4 1178.8 931.6 1179.3 926C1179.8 920.4 1177.3 913.9 1176 909.3C1174.7 904.7 1170.5 899.3 1171 896Z" fill="#bfe7e1"/>
<path d="M450 538C452.1 536.7 463 537.4 467.5 536.2C472 535 477 532.6 480 530C483 527.4 483.7 522.9 486.2 520C488.7 517.1 491.7 513.8 495 512.5C498.3 511.2 502.5 511.9 506.2 512C509.9 512.1 515 511.2 517.5 513C520 514.8 520 519.3 521.2 522.5C522.4 525.7 524.3 530.1 525 532.5C525.7 534.9 525.4 537.7 526.2 540C527 542.3 529.6 543.8 530 546.2C530.4 548.6 530.5 553.1 528.8 555C527.1 556.9 521.4 556.5 520 557.5C518.6 558.5 518.8 560.8 518.8 562.5C518.8 564.2 520 568.7 520 570C520 571.3 519.5 572.7 518.8 573.8C518.1 574.9 516.3 576.2 515 577.5C513.7 578.8 511.1 583.4 508.8 583.8C506.5 584.2 502.6 581.6 501.2 580C499.8 578.4 501.8 574.8 500 573.8C498.2 572.8 487.5 571.3 485 571.2C482.5 571.1 480 572.2 477.5 572.5C475 572.8 462.7 574 461.2 573.8C459.7 573.6 459.1 571.5 458.8 570C458.5 568.5 458.5 561.6 457.5 557.5C456.5 553.4 453.4 547.3 452.5 545C451.6 542.7 447.9 539.3 450 538Z" fill="#f4f5f5"/>
<path d="M483 435.7C483.6 434 488.3 432.6 491.3 432.3C494.3 432 507.9 432.6 509.7 433.3C511.5 434 510.9 437.5 509.7 439C508.5 440.5 501.6 447.8 498 448.3C494.4 448.9 490.1 444.1 488 442.3C485.9 440.5 482.4 437.4 483 435.7Z" fill="#f4f5f5"/>
<path d="M271.7 568.7C272.9 564.1 276.4 559.8 280 557C283.6 554.2 288.6 552.7 293.3 552C298 551.3 311.1 551.1 316.7 551.3C322.3 551.5 328.3 551.4 333.3 553.7C338.3 556 344 562.4 346.7 565.3C349.4 568.2 352.3 571.4 353.3 575.3C354.3 579.2 354.9 590.9 355 598.7C355.1 606.5 355.1 617.1 354 622C352.9 626.9 349.8 631.3 346.7 635.3C343.6 639.3 332.6 652.3 330 653.7C327.4 655.1 326 649.2 323.3 648C320.6 646.8 304.3 641.5 300 640.3C295.7 639.1 290.6 639.9 286.7 638C282.8 636.1 278.8 632.7 276.7 628.7C274.6 624.7 274 617.6 273.3 612C272.6 606.4 271.9 595.4 271.7 588.7C271.5 582 270.5 573.3 271.7 568.7Z" fill="#f4f5f5"/>
<path d="M176 663.7C176.3 661.3 181.5 660.2 183.3 661C185.1 661.8 186.3 666.3 186.7 668.7C187.1 671.1 186.8 674.9 186 676C185.2 677.1 182.6 676.4 181.7 675.3C180.8 674.2 175.7 666.1 176 663.7Z" fill="#f4f5f5"/>
<path d="M376.7 517.3C378 515.1 381.1 513.1 383.3 513.3C385.5 513.5 388.7 516.1 390 518.7C391.3 521.3 392.5 530.3 392.7 532C392.9 533.7 392.9 535.8 391.7 537C390.5 538.2 386.4 540.8 383.3 541.3C380.2 541.8 375.2 541.5 373.3 540.3C371.4 539.1 371.4 535.9 371.7 533.7C372 531.5 375.4 519.5 376.7 517.3Z" fill="#f4f5f5"/>
<path d="M443 553C443.7 552.6 446.7 553.7 447 554.5C447.3 555.3 445.6 557.6 445 558C444.4 558.4 443.3 557.7 443 557C442.7 556.3 442.3 553.4 443 553Z" fill="#f4f5f5"/>
<path d="M155.5 857C156.3 855.9 160.1 854 162.5 854.5C164.9 855 167.7 858.8 170 860C172.3 861.2 176.3 861.7 177.5 862.5C178.7 863.3 179.9 864.9 179.5 866.2C179.1 867.5 177.1 870.5 175 870.5C172.9 870.5 167.7 867.6 165 866.2C162.3 864.8 158.6 862.3 157.5 861.2C156.4 860.1 154.7 858.1 155.5 857Z" fill="#f4f5f5"/>
<path d="M154.5 872.5C154.9 871.7 156.9 871.4 157.5 872C158.1 872.6 158.4 875.4 158 876.2C157.6 877 155.6 877.6 155 877C154.4 876.4 154.1 873.3 154.5 872.5Z" fill="#f4f5f5"/>
<path d="M148 890C148.5 888.1 150.7 886.4 152.5 886.2C154.3 886 157.6 886.9 158.8 888.8C160.1 890.7 160.3 894.6 160 897.5C159.7 900.4 158.3 906.5 157 908C155.7 909.5 152.6 908.8 151.2 907.5C149.8 906.2 149.3 902.6 148.8 900C148.3 897.4 147.5 891.9 148 890Z" fill="#f4f5f5"/>
<path d="M563.8 1022.5C562.7 1020.5 563.5 1011.4 563.8 1010C564.1 1008.6 566.4 1008 567.5 1008C568.6 1008 570.3 1008.8 570.5 1010C570.7 1011.2 571.6 1020.5 570.5 1022.5C569.4 1024.5 564.9 1024.5 563.8 1022.5Z" fill="#f4f5f5"/>
<path d="M423 771.2C423.7 770.7 426.7 770.5 427.5 770.8C428.3 771.1 428.7 772.7 428 773.2C427.3 773.7 424.3 774.1 423.5 773.8C422.7 773.5 422.3 771.7 423 771.2Z" fill="#f4f5f5"/>
<path d="M100 512.3C104.2 502.9 125.5 512.9 131 512.3C136.5 511.7 141.9 509.5 146.7 507.3C151.5 505.1 155.7 501.4 160 499C164.3 496.6 168.9 494.5 173.3 492.3C177.7 490.1 186.9 486.1 193.3 482.3C199.7 478.5 210.3 471.6 213.3 469C216.3 466.4 217.2 461.8 220 459C222.8 456.2 230.3 450.6 233.3 449C236.3 447.4 240 446.1 243.3 446.7C246.6 447.2 250 450.3 253.3 452.3C256.6 454.3 263.5 458.6 266.7 460.7C269.9 462.8 274.2 464 276 467.3C277.8 470.6 279.4 480.1 278.7 482.3C278 484.5 273.7 479.4 271.7 480.7C269.7 482 266.1 488.5 263.3 492.3C260.5 496.1 256.9 501.5 253.3 505.7C249.7 509.9 243.5 515.7 240 519.7C236.5 523.7 233 527.7 230 532C227 536.3 224.2 541.8 221.7 545.3C219.2 548.8 215 551.3 213.3 555.3C211.6 559.3 208.7 568.2 209.3 573.7C209.9 579.2 215 584.9 216.7 588.7C218.4 592.5 220.5 596.2 221 600.3C221.5 604.4 221.2 615.3 221 622C220.8 628.7 219.7 638 220 642C220.3 646 221.6 651.1 223.3 653.7C225 656.3 231.6 659.3 231 658.7C230.4 658.1 223.3 653.5 220 650.3C216.7 647.1 211.8 641.7 210 638.7C208.2 635.7 208.5 631.7 206.7 628.7C204.9 625.7 195.3 612.9 191.7 608.7C188.1 604.5 184 599.9 180 597C176 594.1 171.5 591.5 166.7 590.3C161.9 589.1 152.6 590 146.7 588.7C140.8 587.4 135.9 582.9 130 582C124.1 581.1 104 591.2 100 582C96 572.8 95.8 521.7 100 512.3Z" fill="#d8b46c"/>
<path d="M465.8 470.5C465.4 469.6 469.9 465 471.2 465C472.5 465 474.7 469.6 473.8 470.5C472.9 471.4 466.2 471.4 465.8 470.5Z" fill="#d8b46c"/>
<path d="M210 632.5C210.4 632.3 213.1 637.7 215 640C216.9 642.3 219.4 644 221.2 646.2C223.1 648.5 225 652.1 226.2 653.8C227.5 655.4 231 657.5 230.8 658C230.5 658.5 226.6 658.1 225 657C223.4 655.9 220.7 652.5 218.8 650C216.8 647.5 213.9 644 212.5 641.2C211.1 638.5 209.6 632.7 210 632.5Z" fill="#d8b46c"/>
<path d="M849.7 285.7C850 283.5 851.3 280.3 853 279C854.7 277.7 857.8 276.8 859.7 278C861.6 279.2 865.2 284.1 866.3 287.3C867.4 290.5 867.4 295.1 866.3 297.3C865.2 299.5 862 301.5 859.7 300.7C857.4 299.9 852.6 294.2 851.3 292.3C850 290.4 849.4 287.9 849.7 285.7Z" fill="#70c1b6"/>
<path d="M989.3 214C983.1 215 998.6 224 1002.7 227.3C1006.8 230.6 1012.1 232.2 1016 235.7C1019.9 239.2 1025.4 247.6 1029.3 250.7C1033.2 253.8 1038.2 255.2 1042.7 257.3C1047.2 259.4 1053.4 263 1057.7 264C1062 265 1068 264.6 1071 264C1074 263.4 1076.3 260.4 1079.3 260C1082.3 259.6 1087.4 260.1 1091 261.3C1094.6 262.5 1099 265.1 1101 267.3C1103 269.5 1104.3 272.9 1104.3 275.7C1104.3 278.5 1101.8 281.3 1101 284C1100.2 286.7 1098.8 289.8 1099.3 292.3C1099.8 294.8 1102.1 297.3 1104.3 299C1106.5 300.7 1110.1 300.9 1112.7 302.3C1115.3 303.7 1120.4 306.7 1122.7 309C1125 311.3 1126.6 314.3 1127.7 317.3C1128.8 320.3 1128.5 324 1129.3 327.3C1130.1 330.6 1133.3 339.4 1134.3 345.7C1135.3 352 1135.8 359 1135.3 365.7C1134.8 372.4 1132.3 379.1 1131 385.7C1129.7 392.3 1128.5 402.3 1127.7 405.7C1126.9 409.1 1125 412.3 1124.3 415.7C1123.6 419.1 1122.5 423.7 1123.3 427.3C1124.1 430.9 1127.9 434.6 1129.3 437.3C1130.7 440 1130.5 444.3 1132.7 445.7C1134.9 447.1 1139.4 446.4 1142.7 445.7C1146 445 1152.6 442.2 1156 440.7C1159.4 439.2 1163.4 437.5 1166 435.7C1168.6 433.9 1170 430.6 1172.7 429C1175.4 427.4 1181.9 426.4 1186 424C1190.1 421.6 1194.9 418.2 1197.7 414C1200.5 409.8 1201.1 404 1202.7 399C1204.3 394 1206.3 387.8 1207.7 382.3C1209.1 376.8 1210.2 369.1 1211 365.7C1211.8 362.3 1213.3 359.1 1214.3 355.7C1215.3 352.3 1220.4 340.4 1221 332.3C1221.6 324.2 1221.5 269.1 1221 265.7C1220.5 262.3 1213 265.3 1211.3 262.3C1209.6 259.3 1210.2 248.9 1209.3 245C1208.4 241.1 1206.4 236.7 1205 233.7C1203.6 230.7 1201.7 227.9 1200 225C1198.3 222.1 1194.5 216.3 1193.7 215C1192.9 213.7 1193.5 211 1192 210.7C1190.5 210.4 1175.3 207.9 1169.3 210.7C1163.3 213.5 1159.7 224.3 1156 227.3C1152.3 230.3 1145.3 230.9 1142.7 232.3C1140.1 233.7 1138.7 237.1 1136 238.3C1133.3 239.5 1129.3 239 1126 239.7C1122.7 240.4 1116.5 244.2 1114.3 243C1112.1 241.8 1113.5 235.8 1112.7 232.3C1111.9 228.8 1112.2 224 1109.3 221.7C1106.4 219.4 1096.4 214.5 1089.3 214C1082.2 213.5 995.5 213 989.3 214Z" fill="#70c1b6"/>
<path d="M251.2 800C253.2 796.8 256.5 794.4 260 793C263.5 791.6 270.8 790.5 275 790.5C279.2 790.5 285.1 791.6 287.5 793C289.9 794.4 291.4 797.3 292 800C292.6 802.7 290.5 806.7 291.2 810C291.9 813.3 294.5 817 296.2 820C297.9 823 302 825.7 302 828.8C302 831.9 297.5 836.8 296.2 838.8C294.9 840.8 294.3 843.9 292 844.5C289.7 845.1 278.7 843.7 276.2 843.8C273.7 843.9 270.5 844.9 268.8 845C267.1 845.1 265.2 844.3 263.8 844.5C262.4 844.7 261.3 846.3 260 846.2C258.7 846.1 257.7 843.6 256.2 843.8C254.7 844 251.5 847.7 250 847.5C248.5 847.3 247.2 844.4 247 842.5C246.8 840.6 249.1 837.6 248.8 835C248.5 832.4 245.2 828.6 245 825C244.8 821.4 246.5 816.6 247.5 812.5C248.5 808.4 249.2 803.2 251.2 800Z" fill="#70c1b6"/>
<path d="M217.5 851.2C219.4 848.1 223.5 845.3 226.2 843.8C228.9 842.3 232.7 840.2 235 841.2C237.3 842.2 237.5 848.5 240 849.5C242.5 850.5 247.7 848.3 250 847.5C252.3 846.7 254.7 844 256.2 843.8C257.7 843.6 258.5 846.1 260 846.2C261.5 846.3 266.3 845.4 268.8 845C271.3 844.6 274 842.6 276.2 843.8C278.4 845 280.8 849.4 282.5 852.5C284.2 855.6 285.5 859 286.2 862.5C286.9 866 287.2 870.8 287 875C286.8 879.2 285.4 886.7 285 890C284.6 893.3 284.9 896.8 283.8 900C282.7 903.2 280.1 909.3 277.5 912.5C274.9 915.7 270.7 917.8 267.5 920C264.3 922.2 260.6 925 257.5 926.2C254.4 927.4 250.8 928.3 247.5 927.5C244.2 926.7 240.4 923.7 237.5 921.2C234.6 918.7 232.3 915.6 230 912.5C227.7 909.4 225.6 904.9 223.8 902.5C222 900.1 219 898.1 217.5 896.2C216 894.3 214.2 892.1 213.8 890C213.4 887.9 213.9 885.6 215 883.8C216.1 882 221 879.4 221.2 877.5C221.4 875.6 217.1 874.7 216.2 872.5C215.3 870.3 214.8 865.9 215 862.5C215.2 859.1 215.6 854.3 217.5 851.2Z" fill="#70c1b6"/>
<path d="M377 812.5C377.2 810 380 805.3 382.5 802.5C385 799.7 390.6 792.9 392.5 795C394.4 797.1 394.4 811.8 393.8 815C393.2 818.2 389.6 821.9 387.5 822.5C385.4 823.1 382.9 820.5 381.2 818.8C379.4 817.1 376.8 815 377 812.5Z" fill="#70c1b6"/>
<path d="M223.8 935C224 932.8 225.8 929.6 227.5 929.5C229.2 929.4 231.4 934.2 233.8 934.5C236.2 934.8 240.5 930.1 242 931.2C243.5 932.3 243.5 939.1 243 941.2C242.5 943.3 238.9 944.3 238.8 946.2C238.7 948.1 242.5 950.2 242.5 952.5C242.5 954.8 240 957.5 238.8 960C237.6 962.5 235.7 964.8 235 967.5C234.3 970.2 233.5 977.2 233.8 980C234.1 982.8 236.1 985.2 237.5 987.5C238.9 989.8 240.7 991.8 242.5 993.8C244.3 995.8 247.2 999.1 250 1001.2C252.8 1003.3 257.3 1006.6 260 1007C262.7 1007.4 265.8 1005.8 267.5 1003.8C269.2 1001.8 268.8 997.7 270 995C271.2 992.3 273.3 989.9 275 987.5C276.7 985.1 279.4 980.2 282.5 977.5C285.6 974.8 291 972.1 295 970C299 967.9 303.5 965.8 307.5 964.5C311.5 963.2 315.8 962.1 320 962C324.2 961.9 328.9 962.7 332.5 963.8C336.1 964.9 338.9 967.9 342.5 968.8C346.1 969.7 350.8 969.2 355 969.5C359.2 969.8 364.1 970.1 367.5 970.5C370.9 970.9 374.6 970.9 377.5 972.5C380.4 974.1 383.1 977.7 385 980C386.9 982.3 388.7 984.8 390 987.5C391.3 990.2 393.1 994 393.8 997.5C394.5 1001 395.1 1005.9 394.5 1010C393.9 1014.1 395.2 1024.8 390 1025C384.8 1025.2 118.8 1024.1 100 1020C81.2 1015.9 104.5 964.8 105 962.5C105.5 960.2 109.8 961.6 112 962.5C114.2 963.4 117.5 968.1 120 968.8C122.5 969.5 125 966.5 127.5 967C130 967.5 134.1 970.7 137.5 972.5C140.9 974.3 147.3 978 152.5 980C157.7 982 164.1 983.8 170 985C175.9 986.2 185.8 987.3 190 987.5C194.2 987.7 199 987 202.5 986.2C206 985.4 210.1 984.3 212.5 982.5C214.9 980.7 216.6 977.9 217.5 975C218.4 972.1 218 966.6 218.8 962.5C219.6 958.4 221.5 952.6 222.5 950C223.5 947.4 226 945 226.2 942.5C226.4 940 223.6 937.2 223.8 935Z" fill="#70c1b6"/>
<path d="M428.8 1022.5C421.7 1020.9 434.4 1006.9 437.5 1002.5C440.6 998.1 445.6 995.5 450 992.5C454.4 989.5 459.8 986.3 465 983.8C470.2 981.3 479.7 978.4 482.5 977C485.3 975.6 487.1 972.4 490 971.2C492.9 970 497.1 968.9 500 969.5C502.9 970.1 505.3 972.9 507.5 975C509.7 977.1 512.8 980.6 515 983.8C517.2 987 519.6 991 521.2 995C522.8 999 523.9 1003.2 524.5 1007.5C525.1 1011.8 529.9 1021.7 525 1022.5C520.1 1023.3 435.9 1024.1 428.8 1022.5Z" fill="#70c1b6"/>
<path d="M660 700C660.4 697.6 661.7 695 663.8 693.8C665.9 692.6 674.2 692 677.5 690C680.8 688 682.9 683.7 685 681.2C687.1 678.7 688.9 674.8 691.2 673.8C693.5 672.8 697 673.6 698.8 675C700.6 676.4 699.9 680.8 701.8 682C703.7 683.2 708.6 680.8 710 682.5C711.4 684.2 708.5 690.8 710 692.5C711.5 694.2 716.5 690.6 718.8 692.5C721.1 694.4 723.2 701.9 725 705C726.8 708.1 729.2 712.8 731.2 713.8C733.2 714.8 735.7 712.6 737.5 711.2C739.3 709.8 747.3 701.4 747.5 701.2C747.7 701 747.7 700.4 748 700.3C748.3 700.2 758.8 699.5 763 697C767.2 694.5 769.9 689.4 773 685.3C776.1 681.2 780.9 672.7 784.7 668.7C788.5 664.7 793 660.5 798 658.7C803 656.9 811.1 658.7 814.7 658C818.3 657.3 821.1 654.2 824.7 653.7C828.3 653.2 835.1 652.8 839.7 654.7C844.3 656.6 849.7 660.8 853 665.3C856.3 669.8 858.9 676.1 859.7 682C860.5 687.9 859.2 697.7 858 702C856.8 706.3 853.7 709.9 851.3 713.7C848.9 717.5 847.1 723 843 725.3C838.9 727.6 830.9 728.1 824.7 728.7C818.5 729.3 800.5 729 794.7 729.7C788.9 730.4 783.5 733.7 778 734.7C772.5 735.7 766.3 737 761.3 736C756.3 735 752.4 731 748 728.7C743.6 726.4 737.2 723.4 734.7 722C732.2 720.6 730.3 718 727.5 717.5C724.7 717 713.3 717.7 707.5 717.5C701.7 717.3 693.5 716.8 690 716.2C686.5 715.6 682.1 713.3 680 712.5C677.9 711.7 675.9 709.3 673.8 710C671.7 710.7 665.9 718.2 663.8 718C661.7 717.8 661.8 711.7 661.2 708.8C660.6 705.9 659.6 702.4 660 700Z" fill="#70c1b6"/>
<path d="M809.7 843C809.4 841.3 814.5 840.1 816.3 840.3C818.1 840.5 820.4 842.6 820.7 844.3C821 846 819.8 850.5 818 850.3C816.2 850.1 810 844.7 809.7 843Z" fill="#70c1b6"/>
<path d="M762.3 843C763.3 842.6 769.8 842.7 770.7 843C771.6 843.3 771.6 845.6 770.7 846C769.8 846.4 763.3 846.7 762.3 846.3C761.3 845.9 761.3 843.4 762.3 843Z" fill="#70c1b6"/>
<path d="M803 858.7C804.8 856.2 810 853.4 813 853.7C816 854 819.8 857.2 820.7 860.3C821.7 863.3 820.2 869 818.7 872C817.2 875 814.2 877.5 811.3 878.7C808.4 879.9 802.8 881 801.3 879.3C799.8 877.6 801.7 872 802 868.7C802.3 865.4 801.2 861.2 803 858.7Z" fill="#70c1b6"/>
<path d="M730.4 276C730.5 275.5 731.8 275.5 731.9 276C732 276.5 732 281 731.9 281.5C731.8 282 730.5 282 730.4 281.5C730.3 281 730.3 276.5 730.4 276Z" fill="#70c1b6"/>
<path d="M322 997C322.2 995.9 327.3 994.9 330 995C332.7 995.1 339.8 996.5 340.8 997.5C341.8 998.5 338 1000.2 336.2 1000.8C334.4 1001.4 331.2 1002.4 328.8 1001.8C326.4 1001.2 321.8 998.1 322 997Z" fill="#23867e"/>
<path d="M107.5 1004.5C109 1004.3 131.3 1005.9 132.5 1006.2C133.7 1006.5 133.8 1009.9 132.5 1010C131.2 1010.1 109 1009.3 107.5 1009C106 1008.7 106 1004.7 107.5 1004.5Z" fill="#23867e"/>
<path d="M151.2 1007.2C152.1 1007.1 164.1 1007.6 165 1007.8C165.9 1008 165.9 1010.4 165 1010.5C164.1 1010.6 152.1 1010.2 151.2 1010C150.3 1009.8 150.3 1007.3 151.2 1007.2Z" fill="#23867e"/>
</g>
<g fill="none" stroke="#808080" stroke-width="1.55" stroke-linejoin="round">
<path d="M20 242.3 25 239 36.7 240 43.3 236.3 60 235.7 61.7 250.7 65.7 253 71.7 250.7 73.3 245.7 80 243.3 81 230 110 231.3 110 245.7 115.3 246.3 115.3 266.7 120.7 269 120.7 271.7 131 271.7"/>
<path d="M20 509 112.3 513.3 115 507.3 119.3 506.7"/>
<path d="M309.3 100.7 309.3 130.7 310.7 130.7 307.3 209"/>
<path d="M20 703.7 111.7 707.7"/>
<path d="M552 209 552 216"/>
<path d="M591.3 100 591.3 111"/>
<path d="M711.3 100 711.3 111"/>
<path d="M711.3 207 711.3 217"/>
<path d="M1001.7 100.7 1001.7 135.7 1001 214"/>
<path d="M1001.7 127.3 1112.7 124"/>
<path d="M1112.7 100.7 1113.7 132.3 1117 133.3 1118.7 212.3"/>
<path d="M1118.7 168 1202.7 165.7"/>
<path d="M1211.7 100.7 1212.7 129.7"/>
<path d="M1202 130.7 1324.3 126.7"/>
<path d="M1202 130.7 1205.3 210.7"/>
<path d="M1299.3 100.7 1300.3 127.3"/>
<path d="M1321 127.3 1324.3 195.7"/>
<path d="M1206 209 1324.3 205"/>
<path d="M1209.3 271.3 1315.3 267.3 1324.3 267.3"/>
<path d="M1315.3 267.3 1318.7 337.3"/>
<path d="M1211 341.7 1324.3 337.3"/>
<path d="M1321 338.3 1324.3 407.3"/>
<path d="M1311 409.7 1313.7 495.7"/>
<path d="M1216 499 1324.3 495"/>
<path d="M1317.7 495.7 1320 532"/>
<path d="M1319.3 532 1321 582"/>
<path d="M1219.3 586 1324.3 582"/>
<path d="M1306.7 583.7 1309.3 670.3"/>
<path d="M1222 674.3 1324.3 669.7"/>
<path d="M1296 672 1299.3 759.3"/>
<path d="M1225.3 762 1324.3 758.7"/>
<path d="M1303.3 759.7 1307.7 847 1309.3 847 1310.3 865.3"/>
<path d="M1228.7 868 1324.3 864.7"/>
<path d="M1310.3 865.3 1313.3 935.3"/>
<path d="M1231 938 1324.3 935.3"/>
<path d="M1308.3 936.3 1309.3 965"/>
<path d="M1310.3 866 1313.3 935"/>
<path d="M1231 937.7 1324.3 935.3"/>
<path d="M1308.3 936.7 1311 1012.7"/>
<path d="M914.3 1025.3 915.3 1134.3"/>
<path d="M1234.3 1017.7 1235.3 1047.7 1237.7 1116"/>
<path d="M1216 1120 1216.7 1134.3"/>
<path d="M1303.3 1116.7 1304.3 1134.3"/>
<path d="M360 1021 357.3 1029.3 358.3 1039.3"/>
<path d="M325.7 1124.3 325.7 1134.3"/>
<path d="M591.3 1026 594 1039.3"/>
<path d="M600.3 1125.3 600.7 1134.3"/>
<path d="M716.3 1026 720.7 1041 716.3 1056 716.3 1076 713 1081 703 1081 694.7 1087.7 696.3 1099.3 693 1114.3 701.3 1126 697.3 1133.7"/>
<path d="M399.3 215 398.3 293.3 389 294 388.3 304.7 380 305.3 378.3 346.3 376.7 347.3 376.7 369.7"/>
<path d="M130 361 376.7 369.7 438.7 370.7 438 432.3"/>
<path d="M394.7 432.3 394.7 396.7 438 397.3"/>
<path d="M125 474 146.7 475 146.7 477 200 478.7 200 470.7 296 473.3 296.7 448.3 375.7 449 376.3 431 394.3 431.7"/>
<path d="M448 431.3 425.7 432 423.3 532"/>
<path d="M467.5 218 468.8 226.2 472.5 230 478 235 486.2 237.5 492.5 238.8 497.5 242.5 501.2 250 502.5 255.5 498.8 262.5 496.2 270 495 280 492.5 290 491.8 295 493.8 303.8 497.5 312.5 499.5 320 499 327.5 502.5 335 504.5 340 516.2 341.8 520 336.2 524.5 335.5 527.5 341.2 530 346.2 540 347 545 347.5 552.5 350 556.2 345.5 560 347.5 563.8 352 571.2 351.2 576.2 350 582.5 348 590 346.2 596.2 343.8 604.5 347.5 608.8 341.2 613.8 337.5 615.5 330 616.2 323.8 622 321.2"/>
<path d="M571.2 218 573.8 227.5 580 237.5 586.2 247.5 592.5 256.2 598.8 267.5 603.8 277.5 608.8 290 612.5 302.5 613.8 313 621.2 315 622 321.2 627.5 322.5 629.5 332.5 633.8 340 640 347.5 645 352.5 648 360 650.5 366.2"/>
<path d="M499 327.5 499.5 347.5 501.5 348 500.5 432.5"/>
<path d="M424.7 431.3 448 431.7 500.7 433 537.3 433.3"/>
<path d="M652 366.7 744.7 366.3"/>
<path d="M744.7 349 762.3 348.3 762.3 219"/>
<path d="M744.7 349 745.7 419"/>
<path d="M650.5 366.2 653.8 368 650 377.5 651.2 387.5 656.2 393.8 655 405 653.8 411.2 647.5 416.2 646.2 431.2 685 432 692 433"/>
<path d="M692.3 433 692.3 532"/>
<path d="M885.3 313 896 313"/>
<path d="M885.3 313 885.3 418.3"/>
<path d="M759.7 419.7 896 418.3"/>
<path d="M773 471.7 896 470.7"/>
<path d="M745.7 419 745.7 507.3"/>
<path d="M745.7 506.3 896 505.7"/>
<path d="M807 506.3 807 532"/>
<path d="M972 218 972.7 275.7 972 277.3 972.7 311.7"/>
<path d="M896 312.3 990.3 311.7 990.3 329 991 417.3 896 419"/>
<path d="M990.3 329 1096 327.3 1206.7 324"/>
<path d="M1112.7 215 1114.3 272.3 1112.7 274 1113.7 326.3"/>
<path d="M1114.3 263.3 1205.3 261.3"/>
<path d="M1096 327.3 1096 344 1094.7 345.7 1096 414 1095 415.7 1097 502.3"/>
<path d="M955 418.3 956 505.7"/>
<path d="M896 470.7 955.3 469.7"/>
<path d="M896 506.3 1042.7 504.7 1212.7 497.3"/>
<path d="M955 505.7 955 532"/>
<path d="M1042.7 504.7 1042.7 532"/>
<path d="M425 440 423 543"/>
<path d="M420 543 530 546.2"/>
<path d="M530 430 531.2 445 537.5 461.2 542.5 466.2 547.5 471.2 556.2 480 562.5 486.2 569.5 490 569.5 496.2 565 500 564.5 507.5 558.8 511.2 558 518.8 561.2 527.5 565 538.8 565 543"/>
<path d="M537.2 433.2 558 435.8 563.8 440 570 447.5 577.5 451.2 583.8 457.5 587.5 465 590 472.5 592.5 478.8 597.5 482 606.2 480.5 609.2 480"/>
<path d="M609.2 480 611.2 475 615 471.2 615.5 461.2 620 459.5 630 460 637.5 457.5 642.5 451.2 646.2 448.8 645 440 647 432.2"/>
<path d="M646.2 448.8 652.5 450 660 455 666.2 461.2 670 465 680 468.8 691.2 470"/>
<path d="M609.2 480 610 485 617.5 487.5 622.5 491.2 630 493.8 632.5 497.5 627.5 503.8 623.8 506.2 691.2 506.8"/>
<path d="M623.8 506.2 625 511.2 620 513.8 618.8 518.8 613.8 525 607.5 530 603.8 533.8 601.2 537.5 595 541.2 592.5 547.5 587.5 547.5 582.5 543.8 575 543.8"/>
<path d="M691.8 440 691.8 595 756 595"/>
<path d="M727.5 538.8 726.2 550 720 562.5 716.2 570 710 577.5 705 586.2 701.8 593.8 701.8 682"/>
<path d="M748.8 595 749.5 647.5 743.8 647.5 742.5 661.2 756 662"/>
<path d="M530 546.2 533.8 542.5 537.5 543.8 541.2 547.5 550 548.8 553.8 547.5 560 544.5 565 543 575 543.8"/>
<path d="M530 546.2 528.8 555 520 557.5 518.8 562.5 520 570 518.8 580 515 586.2 508.8 590 508.8 596.2 505 600 505 607 567.5 608"/>
<path d="M575 543.8 575 550 570 555 568.8 565 569.5 575 568 585 568.8 595 564.5 598.8 568.8 602.5 567.5 608"/>
<path d="M567.5 608 567.5 615 570 620 578.8 623.8 578.8 631.2 586.2 632.5 591.2 631.2 598.8 637.5 600 643.8 606.2 645 606.2 652.5 610.5 659.5 606.2 667.5 603.8 681.2 600 682"/>
<path d="M505 607 502.5 612.5 502 619.5 508.8 621.2 515 630 522.5 636.2 532.5 635.5 545 638.8 543.8 643.8 536.2 652.5 531.2 655 529.5 660 530 675 525 680 527.5 687.5 535 695 540 705 540.5 716.2 547.5 723.8 556.2 735"/>
<path d="M420 593 430 593.8 438.8 605 440 610 452.5 618.8 460 617 462.5 621.2 470 622.5 478.8 610 487.5 608 493.8 611.2 500 618.8 502 619.5"/>
<path d="M436.2 733.8 556.2 735.8 582.5 736.2 586.2 730 591.2 730 593.8 732.5"/>
<path d="M600 682 701.8 682 716.2 682 716.2 691.8 756 691.2"/>
<path d="M600 682 606.2 686.2 610 695 614.5 700 612.5 708.8 609.2 720 593.8 732.5 600 740"/>
<path d="M745.5 419.5 753.7 419 754.4 413.8 760.4 410.5 760.4 419 756.6 419.5 756.2 425.7 752.2 423.9 751.7 435.4 745.5 436.9 742.5 439.1 738.8 439.1 735.8 436.4 732.1 437.6 733.3 441.3 727.9 441.3 727.9 437.3 730.6 436.1 731.3 433.9 734.3 429 736.5 428.4 735.8 433.2 745.5 428.7"/>
<path d="M740.3 427.9 744.7 425 745.5 428.7"/>
<path d="M745.5 461.7 759.6 461.4 761.1 459.9 765.6 462.9 769 462.6 769.3 459.2 771.5 458.5 772.3 457.3 774.5 457.7 774.8 459.6 786.4 459.6 786.7 451 795.8 450.3 796.1 439.9 800.5 439.1 801.7 436.9 803.5 437.9 809.5 438.4 811 439.4 816.2 439.9 815.4 445.1 813.6 445.8 813.6 455.2 790.9 455.2 790.9 459.9 795.3 460.2 795.3 466.2 789.4 465.6 781.2 465.1 780.4 466.6 777.5 466.6 777 468.9 773 468.9 772 471.5"/>
<path d="M772 471.5 773 475.6 774.5 480 770.8 481.1 770 483.8 768.5 484.5 769.3 486.7 774.5 486 775.2 488.2 777.5 488.7 773 491.2 772 495.4 767.8 495.4 767.1 491.9 764.8 489.7 761.1 489 758.9 486.7 754.4 486.4 751.7 484.5 750.7 489 748.8 489.4 748.2 494.2 745.5 494.5 744.3 496.8 739.5 496.4 736.5 494.2 737.3 492.7 742.5 492.4 745.2 490.4 742.5 489.4 741.8 486 745.5 486.4"/>
<path d="M745.5 506.8 743.2 509.8 741.8 515 740.7 521 737.3 523.2 733.3 524.7 732.8 526.9 734.3 529.9 734.3 533.6 731.3 536.6 727.3 539.6"/>
<path d="M680 433.2 685.2 431.7 687.4 433.2 691.9 432.9"/>
<path d="M680 468.1 687.4 468.9 688.2 470.7 691.2 470.4"/>
<path d="M691.9 436.9 727.9 437.3"/>
<path d="M990 135.5 1001.6 135.5"/>
<path d="M121.7 533.7 373.3 543 423.3 543.7"/>
<path d="M373.3 543 368.3 552 375 557 380 562 376.7 565.3 361.7 570.3 350 578.7 340 587 328.3 598.7 320 605.3 313.3 601.3 305 598 286.7 602 275 610.3 266.7 618.7 265 625.3 258.3 631.3 221.7 645.3"/>
<path d="M380 562 383.3 578.7 393.3 585.3 395.7 593 420 593"/>
<path d="M361.7 570.3 358.3 682 356.7 756"/>
<path d="M221.7 645.3 220 678 219 712"/>
<path d="M220 678 358.3 682.7"/>
<path d="M113.8 708 218.8 712 218.8 700"/>
<path d="M358.8 670 357 756.2 336.2 755.5 335 750 256.2 748"/>
<path d="M256.2 748 258 751.2 261.2 752 262 762.5 273.8 763.8 280 767 286.2 771.2 286.2 782.5 283.8 785 284.5 792 292.5 792.5 292.5 805 291.2 808.8 296.2 813.8 308.8 817.5 313.8 823.8 317.5 830 316.2 836.2 310 842.5 307.5 850 301.2 856.2 300 860.5 295.5 861.2 293.8 870 286.2 872.5 280 875 278 880 279.5 887 271.2 895 268 905 266.2 920 263.8 926.2 257.5 928.8 252.5 937.5 243.8 942 238.8 946.2 235 957.5 226.2 968.8 222.5 972.5 221.2 985 215 1000 207.5 1012.5"/>
<path d="M335 750 338.8 761.2 342.5 772.5 345 786.2 343.8 796.2 352.5 802.5 348.8 810 345 816.2 340 817.5 340 823 332 823.8 332 832.5 323.8 838 316.2 836.2"/>
<path d="M345 787.5 426 789.2"/>
<path d="M340 823 345 826.2 350 832.5 351.2 843.8 352.5 851.2 358.8 857.5 360 862.5 357 865 355 890 354.5 933.8 352 1017.5"/>
<path d="M111.2 778 284.5 784.5"/>
<path d="M108.8 832.5 143 833.8 143.8 830.8 233.8 835 238.8 845 240 849.5 250 847.5 256.2 843.8 260 846.2 263.8 844.5 268.8 845 276.2 843.8 282.5 850 290 855 295.5 861.2"/>
<path d="M276.2 843.8 280 848.8 286.2 852.5 292.5 860"/>
<path d="M105 911.2 125 883.8 278 887 355 890"/>
<path d="M354.5 933.8 411.2 935"/>
<path d="M436.2 733.8 435 789.5 434.5 827.5"/>
<path d="M345.5 787.5 435 789.5"/>
<path d="M413 830.5 417.5 828 423.8 827 427.5 829.5 431.2 828.8 434.5 827.5 438.8 824.5 442.5 827.5 448.8 826.2 452.5 827.5 456.2 832.5 458.8 835.5 466.2 837.5 471.2 842.5 476.2 843 482.5 846.2 482.5 887.5 479.5 888 478.8 941.2 411.2 940.8 412.5 884.5 410 883.8 413 830.5"/>
<path d="M482.5 853.8 500 854.2 500 871.2 587.5 872.5 656 872.5"/>
<path d="M355 933.8 411.2 934.5"/>
<path d="M478.8 941.2 483.8 941.2 586.2 942.5 587.5 872.5"/>
<path d="M586.2 942.5 586.8 951.2 632.5 952 673.8 905.2"/>
<path d="M483.8 941.2 483 976.2 496.2 983.8 497.5 993.8 505 1006.2 513 1018.8"/>
<path d="M632.5 952 638 965 633.8 975 635.5 987.5 631.2 1000 632.5 1008.8 629.5 1015 636.2 1021.2"/>
<path d="M598.8 740 605 747.5 612.5 755 618.8 762.5 626.2 769.5 656 769.5"/>
<path d="M626.2 769.5 635 780 645 790 647.5 801.2 656 815"/>
<path d="M748 594.3 896 594.3"/>
<path d="M807 532 807 594.3"/>
<path d="M743 661.3 763 662 763 770.3 654.7 769.7"/>
<path d="M754.7 691.3 763 691.3"/>
<path d="M746.3 771 746.3 840.3"/>
<path d="M763 717.7 896 716.3"/>
<path d="M656.3 815.3 661.3 828.7 668 833.7 678 844.7 687.3 844.7 694.7 838.7 704 836 707.3 842 711.3 837 718 825.3 726.3 819.3 731.3 825.3 734.7 833.7 741.3 833 746.3 840.3 751.3 846.3 809.7 843 896 872.7"/>
<path d="M678 844.7 684.7 848.7 683 862 680.3 872 678 882 676.3 892 673.7 905.3 678 907 684.7 900.3 694.7 898 705.3 892 714.7 898 723 900.3 721.3 908.7 726.3 918.7 728 932 732 942 728 948.7 727.3 965"/>
<path d="M654.7 872.7 680.3 872.7"/>
<path d="M729 1022.7 727.3 965.7 734.7 964.3 746.3 957.7 758 949.3 773 946 788 944.3 801.3 937.7 803 927.7 814.7 921 824.7 909.3 834.7 891 844.7 872.7 853 866 857.3 859.7"/>
<path d="M955 532 956 646.3 902.7 647"/>
<path d="M896 594.3 902.7 594.3 903.3 717"/>
<path d="M1042.7 532 1043.3 592 1042 593 1042.7 611 1043.3 680.3 1042.7 682 1043.3 713.7"/>
<path d="M1042.7 611 1217 604.3"/>
<path d="M1043.3 696 1220 691.3"/>
<path d="M896 717 903.3 717 991 715.3 1043.3 713.7"/>
<path d="M991 715.3 991 748.7 992 767 991.7 786 973.7 787 973.7 798.7 944.3 799.3 939.3 797 929.3 795.3 919.3 797 912.7 792.7 904.3 793.7"/>
<path d="M992 767 1112.7 764.7 1224.3 761.3"/>
<path d="M903.3 717 904.3 793.7 905 893.7"/>
<path d="M1008.3 767.7 1010 857 1009.3 858.7 1010 892"/>
<path d="M1112.7 764.7 1114.3 853.7 1113.7 855.3 1115 890.3"/>
<path d="M896 872.7 904.3 875.3"/>
<path d="M905 893.7 1010 892 1062.7 892 1115 890.3 1226.7 887"/>
<path d="M1062.7 892 1063.7 943.7 1062.7 945.3 1063.7 1022"/>
</g>
<g fill="none" stroke="#000" stroke-width="3.1" stroke-linejoin="round">
<path d="M135 205 220 207.6 306 210.2 448 214.3 600 216.9 750 217.7 896 217 1050 214.5 1204.3 210.7 1211 411 1215 532 1222 682 1225.3 765 1227.7 866 1233.3 1016.7 1077.7 1021.3 896 1023.3 731 1025 634 1023.7 448 1021 353 1018.7 206.7 1012.7 99.2 1010 101 965 106 866 111.7 705 120.7 532 135 205"/>
<path d="M20 198 135 205"/>
<path d="M897 99 897 216.7"/>
<path d="M1211 411.7 1325 408.3"/>
<path d="M20 1006.7 99.2 1010 94.5 1134"/>
<path d="M1077.7 1021.3 1079.3 1122 1072.7 1122 1073.3 1134"/>
<path d="M1079.3 1122 1325 1114.3"/>
<path d="M1233.3 1016.7 1325 1012.7"/>
</g>
</g>
<rect x="20" y="100" width="1305" height="1035" fill="none" stroke="#000" stroke-width="2"/>
<rect x="351.1" y="111.6" width="644.3" height="94.8" fill="#fff" stroke="#000" stroke-width="3"/>
<rect x="31.5" y="1040.5" width="627" height="83.5" fill="#fff" stroke="#000" stroke-width="3.1"/>
<text x="359" y="139.3" font-size="22.92" textLength="627" lengthAdjust="spacing">statewide departure from 1901-2000 avg: +0.2 inches</text>
<text x="359" y="166.2" font-size="22.92" textLength="627" lengthAdjust="spacing">statewide departure from 1991-2020 avg: +0.5 inches</text>
<text x="359" y="192.5" font-size="22.92">statewide rank: 77th driest/54th wettest</text>
<text x="39.5" y="1065.7" font-size="21.5">source: NOAA/NCEI nclimgrid</text>
<text x="39.5" y="1088.5" font-size="21.5" textLength="608.5" lengthAdjust="spacing">map: Colorado Climate Center/Colorado State University</text>
<text x="39.5" y="1111.9" font-size="21.5">map generated 14 March 2025</text>
<text x="672.5" y="45.6" font-size="33.33" text-anchor="middle">percent of 1991-2020 average precipitation</text>
<text x="672.5" y="84" font-size="33.33" text-anchor="middle">7 months ending August 1982 (Feb-Aug)</text>
<path d="M123.7 1147.1 L69.6 1167.0 L123.7 1186.9 Z" fill="#543005"/>
<path d="M1221 1147.1 L1275 1167.0 L1221 1186.9 Z" fill="#003c30"/>
<rect x="122.70" y="1147.1" width="122.64" height="39.80000000000018" fill="#734208"/>
<rect x="244.84" y="1147.1" width="122.64" height="39.80000000000018" fill="#ad7021"/>
<rect x="366.99" y="1147.1" width="122.64" height="39.80000000000018" fill="#d8b46c"/>
<rect x="489.13" y="1147.1" width="122.64" height="39.80000000000018" fill="#f3e4bb"/>
<rect x="611.28" y="1147.1" width="122.64" height="39.80000000000018" fill="#f4f5f5"/>
<rect x="733.42" y="1147.1" width="122.64" height="39.80000000000018" fill="#bfe7e1"/>
<rect x="855.57" y="1147.1" width="122.64" height="39.80000000000018" fill="#70c1b6"/>
<rect x="977.71" y="1147.1" width="122.64" height="39.80000000000018" fill="#23867e"/>
<rect x="1099.86" y="1147.1" width="122.14" height="39.80000000000018" fill="#015349"/>
<path d="M122.7 1147.1 L1222 1147.1 L1275 1167.0 L1222 1186.9 L122.7 1186.9 L69.6 1167.0 Z" fill="none" stroke="#000" stroke-width="2.1" stroke-linejoin="miter"/>
<path d="M122.70 1186.9 v9.6" stroke="#000" stroke-width="2"/>
<text x="122.70" y="1230" font-size="28" text-anchor="middle">10</text>
<path d="M244.84 1186.9 v9.6" stroke="#000" stroke-width="2"/>
<text x="244.84" y="1230" font-size="28" text-anchor="middle">30</text>
<path d="M366.99 1186.9 v9.6" stroke="#000" stroke-width="2"/>
<text x="366.99" y="1230" font-size="28" text-anchor="middle">50</text>
<path d="M489.13 1186.9 v9.6" stroke="#000" stroke-width="2"/>
<text x="489.13" y="1230" font-size="28" text-anchor="middle">70</text>
<path d="M611.28 1186.9 v9.6" stroke="#000" stroke-width="2"/>
<text x="611.28" y="1230" font-size="28" text-anchor="middle">90</text>
<path d="M733.42 1186.9 v9.6" stroke="#000" stroke-width="2"/>
<text x="733.42" y="1230" font-size="28" text-anchor="middle">110</text>
<path d="M855.57 1186.9 v9.6" stroke="#000" stroke-width="2"/>
<text x="855.57" y="1230" font-size="28" text-anchor="middle">130</text>
<path d="M977.71 1186.9 v9.6" stroke="#000" stroke-width="2"/>
<text x="977.71" y="1230" font-size="28" text-anchor="middle">150</text>
<path d="M1099.86 1186.9 v9.6" stroke="#000" stroke-width="2"/>
<text x="1099.86" y="1230" font-size="28" text-anchor="middle">170</text>
<path d="M1222.00 1186.9 v9.6" stroke="#000" stroke-width="2"/>
<text x="1222.00" y="1230" font-size="28" text-anchor="middle">190</text>
<text x="672.5" y="1272.5" font-size="33.33" text-anchor="middle">percent of average precipitation</text>
</svg></body></html>
